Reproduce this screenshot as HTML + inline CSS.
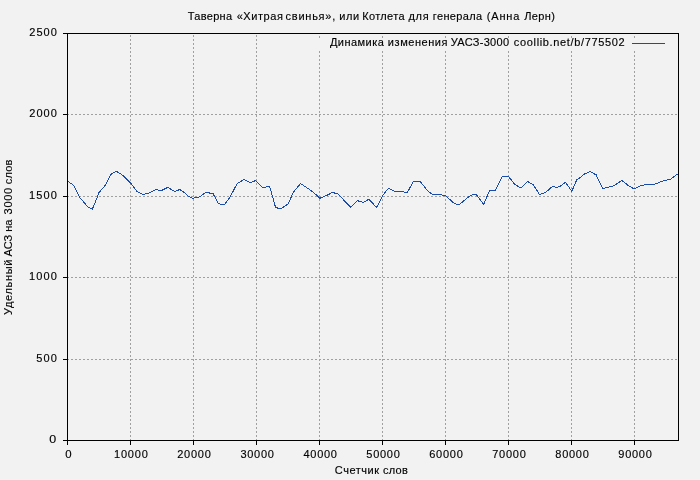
<!DOCTYPE html>
<html><head><meta charset="utf-8"><title>chart</title>
<style>
html,body{margin:0;padding:0;background:#f2f2f2;}
body{width:700px;height:480px;overflow:hidden;}
svg{display:block;}
text{font-family:"Liberation Sans", sans-serif;font-size:11px;fill:#000;stroke:#000;stroke-width:0.15px;}
</style></head><body>
<svg width="700" height="480" viewBox="0 0 700 480">
<rect x="0" y="0" width="700" height="480" fill="#f2f2f2"/>
<g stroke="#a0a0a0" stroke-width="1" stroke-dasharray="2 2" shape-rendering="crispEdges"><line x1="130.5" y1="441" x2="130.5" y2="34"/><line x1="193.5" y1="441" x2="193.5" y2="34"/><line x1="256.5" y1="441" x2="256.5" y2="34"/><line x1="319.5" y1="441" x2="319.5" y2="34"/><line x1="382.5" y1="441" x2="382.5" y2="34"/><line x1="445.5" y1="441" x2="445.5" y2="34"/><line x1="508.5" y1="441" x2="508.5" y2="34"/><line x1="571.5" y1="441" x2="571.5" y2="34"/><line x1="634.5" y1="441" x2="634.5" y2="34"/><line x1="67" y1="114.5" x2="678" y2="114.5"/><line x1="67" y1="196.5" x2="678" y2="196.5"/><line x1="67" y1="277.5" x2="678" y2="277.5"/><line x1="67" y1="359.5" x2="678" y2="359.5"/></g>
<g shape-rendering="crispEdges"><rect x="290" y="35" width="387" height="15" fill="#f2f2f2"/><rect x="319" y="36" width="1" height="2" fill="#a0a0a0"/><rect x="382" y="36" width="1" height="2" fill="#a0a0a0"/><rect x="445" y="36" width="1" height="2" fill="#a0a0a0"/><rect x="508" y="36" width="1" height="2" fill="#a0a0a0"/><rect x="571" y="36" width="1" height="2" fill="#a0a0a0"/><rect x="634" y="36" width="1" height="2" fill="#a0a0a0"/></g>
<g stroke="#000" stroke-width="1" shape-rendering="crispEdges"><path d="M67.5 33.5H678.5V440.5H67.5Z" fill="none"/><line x1="63" y1="33.5" x2="68" y2="33.5"/><line x1="63" y1="114.5" x2="68" y2="114.5"/><line x1="63" y1="196.5" x2="68" y2="196.5"/><line x1="63" y1="277.5" x2="68" y2="277.5"/><line x1="63" y1="359.5" x2="68" y2="359.5"/><line x1="63" y1="440.5" x2="68" y2="440.5"/><line x1="67.5" y1="440" x2="67.5" y2="445"/><line x1="130.5" y1="440" x2="130.5" y2="445"/><line x1="193.5" y1="440" x2="193.5" y2="445"/><line x1="256.5" y1="440" x2="256.5" y2="445"/><line x1="319.5" y1="440" x2="319.5" y2="445"/><line x1="382.5" y1="440" x2="382.5" y2="445"/><line x1="445.5" y1="440" x2="445.5" y2="445"/><line x1="508.5" y1="440" x2="508.5" y2="445"/><line x1="571.5" y1="440" x2="571.5" y2="445"/><line x1="634.5" y1="440" x2="634.5" y2="445"/></g>
<path d="M67.50 180.80 L70.50 183.50 L71.80 183.60 L74.50 186.50 L79.50 197.20 L83.60 202.00 L87.50 206.50 L92.20 209.30 L94.80 203.50 L99.00 192.60 L105.20 185.30 L111.00 174.40 L112.50 173.10 L116.70 171.50 L122.90 175.40 L131.30 183.75 L136.50 191.00 L142.70 194.40 L149.00 193.10 L155.70 189.50 L159.40 190.50 L162.00 190.30 L167.70 187.40 L175.00 191.60 L179.70 189.50 L184.40 192.60 L188.50 196.25 L192.70 198.30 L197.90 197.30 L200.50 196.25 L204.70 193.10 L207.30 192.30 L210.40 193.30 L213.00 193.60 L218.20 203.30 L221.30 204.40 L224.50 204.40 L229.70 197.80 L237.00 183.75 L239.00 182.50 L243.70 179.60 L250.50 182.50 L255.70 180.60 L262.50 187.40 L265.60 187.10 L266.60 186.40 L269.75 186.60 L275.50 207.20 L278.60 208.50 L281.70 208.20 L288.00 204.10 L293.20 192.60 L300.50 183.50 L307.80 188.40 L313.50 192.30 L319.75 198.30 L322.30 197.30 L327.50 195.00 L332.75 192.30 L334.80 193.10 L338.00 194.00 L350.50 207.20 L357.50 200.40 L359.30 201.40 L361.40 201.60 L362.90 202.50 L365.00 201.40 L366.80 200.40 L368.90 199.10 L376.50 207.50 L383.30 194.70 L388.50 188.10 L394.20 191.25 L402.00 191.25 L404.60 192.30 L407.00 193.10 L413.40 181.50 L420.20 181.50 L426.00 188.75 L429.10 191.90 L432.20 194.40 L441.00 194.40 L443.10 195.40 L445.70 195.70 L452.50 202.00 L458.20 205.10 L462.40 202.00 L468.10 197.30 L470.70 195.40 L473.30 194.70 L476.50 194.70 L483.75 204.40 L489.50 190.50 L495.20 190.50 L502.00 176.70 L508.50 176.50 L515.00 184.60 L521.20 188.10 L527.50 181.50 L533.20 184.60 L539.50 194.40 L545.70 192.30 L552.50 186.40 L556.10 187.40 L559.80 186.70 L565.50 182.20 L571.75 191.25 L576.90 179.60 L579.50 178.00 L584.75 173.90 L590.00 171.50 L596.20 174.90 L602.50 188.40 L607.70 187.40 L614.00 185.80 L621.70 180.40 L628.00 185.30 L633.90 188.80 L640.00 186.00 L646.70 184.50 L654.00 184.50 L663.40 180.80 L670.70 179.00 L677.40 174.10" fill="none" stroke="#1a4cac" stroke-width="1" shape-rendering="crispEdges"/>
<line x1="632" y1="43.5" x2="665" y2="43.5" stroke="#1a4cac" stroke-width="1" shape-rendering="crispEdges"/>
<g style="filter:grayscale(1)"><text x="187.85" y="20" textLength="44.19" lengthAdjust="spacing">Таверна</text><text x="236.65" y="20" textLength="46.23" lengthAdjust="spacing">«Хитрая</text><text x="285.55" y="20" textLength="49.73" lengthAdjust="spacing">свинья»,</text><text x="339.25" y="20" textLength="19.81" lengthAdjust="spacing">или</text><text x="362.20" y="20" textLength="42.39" lengthAdjust="spacing">Котлета</text><text x="408.50" y="20" textLength="20.14" lengthAdjust="spacing">для</text><text x="432.85" y="20" textLength="49.20" lengthAdjust="spacing">генерала</text><text x="486.75" y="20" textLength="32.52" lengthAdjust="spacing">(Анна</text><text x="524.20" y="20" textLength="30.74" lengthAdjust="spacing">Лерн)</text><text x="329.95" y="46" textLength="53.92" lengthAdjust="spacing">Динамика</text><text x="387.85" y="46" textLength="59.59" lengthAdjust="spacing">изменения</text><text x="450.70" y="46" textLength="58.30" lengthAdjust="spacing">УАСЗ-3000</text><text x="513.85" y="46" textLength="110.87" lengthAdjust="spacing">coollib.net/b/775502</text><text x="334.85" y="474" textLength="44.13" lengthAdjust="spacing">Счетчик</text><text x="382.95" y="474" textLength="24.90" lengthAdjust="spacing">слов</text><text x="29.25" y="36" textLength="27.57" lengthAdjust="spacing">2500</text><text x="29.25" y="117" textLength="27.57" lengthAdjust="spacing">2000</text><text x="28.95" y="199" textLength="27.87" lengthAdjust="spacing">1500</text><text x="28.95" y="280" textLength="27.87" lengthAdjust="spacing">1000</text><text x="36.25" y="362" textLength="20.55" lengthAdjust="spacing">500</text><text x="49.35" y="443" textLength="6.93" lengthAdjust="spacingAndGlyphs">0</text><text x="65.33" y="458" textLength="6.35" lengthAdjust="spacingAndGlyphs">0</text><text x="113.95" y="458" textLength="33.89" lengthAdjust="spacing">10000</text><text x="177.25" y="458" textLength="33.59" lengthAdjust="spacing">20000</text><text x="240.40" y="458" textLength="33.44" lengthAdjust="spacing">30000</text><text x="303.55" y="458" textLength="33.29" lengthAdjust="spacing">40000</text><text x="366.35" y="458" textLength="33.49" lengthAdjust="spacing">50000</text><text x="429.25" y="458" textLength="33.59" lengthAdjust="spacing">60000</text><text x="492.25" y="458" textLength="33.59" lengthAdjust="spacing">70000</text><text x="555.35" y="458" textLength="33.49" lengthAdjust="spacing">80000</text><text x="618.30" y="458" textLength="33.54" lengthAdjust="spacing">90000</text><g transform="translate(12,0) rotate(-90)"><text x="-314.90" y="0" textLength="55.23" lengthAdjust="spacing">Удельный</text><text x="-256.50" y="0" textLength="21.66" lengthAdjust="spacing">АСЗ</text><text x="-231.75" y="0" textLength="12.09" lengthAdjust="spacing">на</text><text x="-214.40" y="0" textLength="26.52" lengthAdjust="spacing">3000</text><text x="-184.20" y="0" textLength="24.65" lengthAdjust="spacing">слов</text></g></g>
</svg>
</body></html>
